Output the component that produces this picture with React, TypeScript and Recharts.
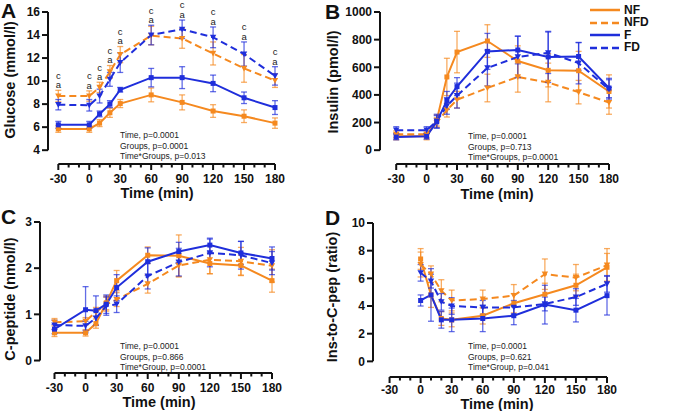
import React from "react";
import { LineChart, Line, XAxis, YAxis, ErrorBar, ReferenceLine } from "recharts";

const ORANGE = "#F5891F";
const BLUE = "#1F2EDB";
const INK = "#111111";
const FONT = "'Liberation Sans', Arial, sans-serif";

// sampling times (min)
const times = [-30, 0, 10, 20, 30, 60, 90, 120, 150, 180];
const timesRatio = [0, 10, 20, 30, 60, 90, 120, 150, 180];
const xTicks = [-30, -20, -10, 0, 10, 20, 30, 40, 50, 60, 70, 80, 90, 100, 110, 120, 130, 140, 150, 160, 170, 180];
const xLabelTicks = [-30, 0, 30, 60, 90, 120, 150, 180];

// A: glucose (mmol/l), mean and SEM
const gluNF = [5.85, 5.85, 6.35, 7.25, 8.05, 8.8, 8.15, 7.4, 6.95, 6.35];
const gluNFErr = [0.3, 0.3, 0.3, 0.4, 0.35, 0.6, 0.65, 0.55, 0.55, 0.45];
const gluNFD = [8.7, 8.7, 9.45, 10.8, 12.3, 13.95, 13.7, 12.4, 11.1, 10.05];
const gluNFDErr = [0.5, 0.45, 0.45, 0.55, 0.7, 0.8, 0.85, 1.0, 1.2, 0.6];
const gluF = [6.2, 6.2, 7.15, 8.0, 9.25, 10.3, 10.3, 9.8, 8.55, 7.7];
const gluFErr = [0.3, 0.3, 0.25, 0.3, 0.2, 0.8, 0.95, 0.72, 0.5, 0.6];
const gluFD = [7.95, 7.9, 8.7, 10.15, 11.6, 14.0, 14.5, 13.8, 12.35, 10.45];
const gluFDErr = [0.45, 0.5, 0.6, 0.6, 0.85, 0.85, 0.8, 0.9, 1.05, 0.8];

// B: insulin (pmol/l)
const insNF = [100, 100, 215, 530, 710, 790, 645, 578, 575, 425];
const insNFErr = [25, 25, 40, 135, 150, 118, 110, 120, 140, 120];
const insNFD = [115, 115, 200, 290, 365, 450, 530, 490, 420, 345];
const insNFDErr = [25, 25, 35, 50, 60, 100, 110, 140, 85, 85];
const insF = [95, 100, 205, 360, 460, 715, 725, 675, 678, 450];
const insFErr = [20, 20, 45, 65, 65, 130, 100, 185, 100, 70];
const insFD = [145, 145, 210, 320, 395, 595, 675, 705, 630, 440];
const insFDErr = [25, 25, 50, 60, 90, 130, 150, 150, 150, 70];

// C: C-peptide (nmol/l)
const cpNF = [0.6, 0.6, 0.8, 1.25, 1.73, 2.28, 2.27, 2.1, 2.06, 1.73];
const cpNFErr = [0.08, 0.07, 0.1, 0.15, 0.22, 0.18, 0.45, 0.22, 0.22, 0.25];
const cpNFD = [0.83, 0.85, 1.05, 1.22, 1.32, 1.66, 2.06, 2.18, 2.15, 2.05];
const cpNFDErr = [0.08, 0.08, 0.1, 0.15, 0.15, 0.2, 0.25, 0.3, 0.3, 0.35];
const cpF = [0.68, 1.1, 1.08, 1.22, 1.58, 2.14, 2.36, 2.5, 2.33, 2.21];
const cpFErr = [0.1, 0.5, 0.32, 0.2, 0.28, 0.3, 0.2, 0.15, 0.25, 0.25];
const cpFD = [0.77, 0.75, 0.92, 1.18, 1.22, 1.83, 2.13, 2.33, 2.28, 2.11];
const cpFDErr = [0.1, 0.1, 0.15, 0.2, 0.18, 0.28, 0.3, 0.3, 0.3, 0.25];

// D: insulin-to-C-peptide ratio
const ratNF = [7.4, 4.8, 3.1, 3.0, 3.3, 4.2, 4.85, 5.5, 6.8];
const ratNFErr = [0.75, 0.9, 0.5, 0.5, 0.6, 0.7, 0.8, 0.8, 1.0];
const ratNFD = [7.0, 6.3, 5.1, 4.4, 4.5, 4.75, 6.3, 6.05, 6.95];
const ratNFDErr = [0.9, 0.6, 0.8, 0.75, 0.65, 0.8, 1.1, 0.95, 1.2];
const ratF = [4.4, 4.8, 3.0, 3.0, 3.1, 3.3, 4.1, 3.7, 4.75];
const ratFErr = [0.4, 1.9, 0.6, 0.85, 0.95, 0.65, 1.4, 0.85, 1.4];
const ratFD = [6.4, 5.8, 4.3, 4.0, 3.9, 3.9, 4.15, 4.65, 5.6];
const ratFDErr = [0.6, 0.5, 0.6, 0.6, 0.5, 0.5, 0.5, 0.6, 0.6];

type Row = {
  t: number;
  nf: number; nfE: number;
  nfd: number; nfdE: number;
  f: number; fE: number;
  fd: number; fdE: number;
  top: number;
};

function buildRows(t: number[], s: number[][]): Row[] {
  return t.map((tt, i) => ({
    t: tt,
    nf: s[0][i], nfE: s[1][i],
    nfd: s[2][i], nfdE: s[3][i],
    f: s[4][i], fE: s[5][i],
    fd: s[6][i], fdE: s[7][i],
    // highest whisker of the diabetic groups, anchors the significance letters
    top: Math.max(s[2][i] + s[3][i], s[6][i] + s[7][i]),
  }));
}

const gluRows = buildRows(times, [gluNF, gluNFErr, gluNFD, gluNFDErr, gluF, gluFErr, gluFD, gluFDErr]);
const insRows = buildRows(times, [insNF, insNFErr, insNFD, insNFDErr, insF, insFErr, insFD, insFDErr]);
const cpRows = buildRows(times, [cpNF, cpNFErr, cpNFD, cpNFDErr, cpF, cpFErr, cpFD, cpFDErr]);
const ratRows = buildRows(timesRatio, [ratNF, ratNFErr, ratNFD, ratNFDErr, ratF, ratFErr, ratFD, ratFDErr]);

const SERIES = [
  { key: "nf", name: "NF", color: ORANGE, dash: undefined as string | undefined, marker: "square" },
  { key: "nfd", name: "NFD", color: ORANGE, dash: "7 4", marker: "tri" },
  { key: "f", name: "F", color: BLUE, dash: undefined as string | undefined, marker: "square" },
  { key: "fd", name: "FD", color: BLUE, dash: "7 4", marker: "tri" },
];

function marker(p: any, kind: string, color: string) {
  const { cx, cy, index } = p;
  if (cx == null || cy == null) return <g key={`m-${index}`} />;
  if (kind === "square") {
    return <rect key={`m-${index}`} x={cx - 2.5} y={cy - 2.5} width={5} height={5} fill={color} />;
  }
  return (
    <path
      key={`m-${index}`}
      d={`M${cx - 3.2},${cy - 2.6}L${cx + 3.2},${cy - 2.6}L${cx},${cy + 3}Z`}
      fill={color}
    />
  );
}

// x ticks every 10 min, labelled every 30 min
function TimeTick(props: any) {
  const { x, y, payload, labelGap = 14.5 } = props;
  const major = xLabelTicks.includes(payload.value);
  return (
    <g>
      <line x1={x} x2={x} y1={y} y2={y + (major ? 6 : 3.5)} stroke={INK} strokeWidth={2} />
      {major && (
        <text x={x} y={y + labelGap} dy="0.36em" textAnchor="middle" fill={INK}
          style={{ fontSize: 12, fontWeight: 700, fontFamily: FONT }}>
          {payload.value}
        </text>
      )}
    </g>
  );
}

function sigLetters(p: any) {
  const { cx, cy, index } = p;
  if (cx == null || cy == null) return <g key={`s-${index}`} />;
  const st = { fontSize: 9.5, fontFamily: FONT, fill: "#222" };
  return (
    <g key={`s-${index}`}>
      <text x={cx} y={cy - 5.5} dy="0.35em" textAnchor="middle" style={st}>a</text>
      <text x={cx} y={cy - 15} dy="0.35em" textAnchor="middle" style={st}>c</text>
    </g>
  );
}

type PanelProps = {
  rows: Row[];
  left: number;
  top: number;
  width: number;
  height: number;
  marginTop: number;
  marginRight: number;
  yAxisWidth: number;
  xAxisHeight: number;
  xMin: number;
  yDomain: [number, number];
  yTicks: number[];
  labelGap?: number;
  letters?: boolean;
};

function Panel(p: PanelProps) {
  const yLo = p.yTicks[0];
  const yHi = p.yTicks[p.yTicks.length - 1];
  return (
    <div style={{ position: "absolute", left: p.left, top: p.top }}>
      <LineChart
        width={p.width}
        height={p.height}
        data={p.rows}
        margin={{ top: p.marginTop, right: p.marginRight, bottom: 0, left: 0 }}
      >
        <XAxis
          dataKey="t"
          type="number"
          domain={[p.xMin, 180]}
          ticks={xTicks}
          interval={0}
          axisLine={false}
          tickLine={false}
          tickSize={0}
          tickMargin={0}
          height={p.xAxisHeight}
          tick={<TimeTick labelGap={p.labelGap} />}
        />
        <YAxis
          type="number"
          domain={p.yDomain}
          ticks={p.yTicks}
          interval={0}
          axisLine={false}
          width={p.yAxisWidth}
          tickSize={6}
          tickMargin={2}
          tickLine={{ stroke: INK, strokeWidth: 2 }}
          tick={{ fill: INK, fontSize: 12, fontWeight: 700, fontFamily: FONT }}
        />
        <ReferenceLine
          segment={[{ x: p.xMin, y: yLo }, { x: p.xMin, y: yHi }]}
          stroke={INK}
          strokeWidth={2}
          ifOverflow="visible"
        />
        <ReferenceLine
          segment={[{ x: -30, y: p.yDomain[0] }, { x: 180, y: p.yDomain[0] }]}
          stroke={INK}
          strokeWidth={2}
          ifOverflow="visible"
        />
        {SERIES.map((s) => (
          <Line
            key={s.key}
            dataKey={s.key}
            stroke={s.color}
            strokeWidth={2}
            strokeDasharray={s.dash}
            dot={(d: any) => marker(d, s.marker, s.color)}
            activeDot={false}
            isAnimationActive={false}
          >
            <ErrorBar
              dataKey={`${s.key}E`}
              direction="y"
              width={3}
              stroke={s.color}
              strokeWidth={1.3}
              strokeOpacity={0.7}
              isAnimationActive={false}
            />
          </Line>
        ))}
        {p.letters && (
          <Line
            dataKey="top"
            stroke="none"
            dot={sigLetters}
            activeDot={false}
            isAnimationActive={false}
          />
        )}
      </LineChart>
    </div>
  );
}

const boldText: React.CSSProperties = {
  position: "absolute",
  fontFamily: FONT,
  fontWeight: 700,
  color: INK,
  whiteSpace: "nowrap",
};

function XTitle({ cx, cy }: { cx: number; cy: number }) {
  return (
    <div style={{ ...boldText, fontSize: 14.5, lineHeight: "14px", left: cx, top: cy, transform: "translate(-50%, -50%)" }}>
      Time (min)
    </div>
  );
}

function YTitle({ cx, cy, text }: { cx: number; cy: number; text: string }) {
  return (
    <div
      style={{
        ...boldText,
        fontSize: 14.5,
        lineHeight: "16px",
        left: cx,
        top: cy,
        transform: "translate(-50%, -50%) rotate(-90deg)",
      }}
    >
      {text}
    </div>
  );
}

function Stats({ x, y, lines }: { x: number; y: number; lines: string[] }) {
  return (
    <div
      style={{
        position: "absolute",
        left: x,
        top: y,
        fontFamily: FONT,
        fontSize: 8.5,
        lineHeight: "10.5px",
        color: "#222",
        whiteSpace: "nowrap",
      }}
    >
      {lines.map((l) => (
        <div key={l}>{l}</div>
      ))}
    </div>
  );
}

function Legend() {
  return (
    <div style={{ position: "absolute", left: 590, top: 4 }}>
      {SERIES.map((s) => (
        <div key={s.key} style={{ display: "flex", alignItems: "center", height: 12.5 }}>
          <svg width={30} height={6}>
            <line x1={0} x2={30} y1={3} y2={3} stroke={s.color} strokeWidth={2.5} strokeDasharray={s.dash ? "7 4" : undefined} />
          </svg>
          <span style={{ fontFamily: FONT, fontWeight: 700, fontSize: 12, color: INK, marginLeft: 4, lineHeight: "11px" }}>
            {s.name}
          </span>
        </div>
      ))}
    </div>
  );
}

const letter: React.CSSProperties = { ...boldText, fontSize: 21, lineHeight: "21px" };

export default function App() {
  return (
    <div style={{ position: "absolute", left: 0, top: 0, width: 677, height: 411, background: "#fff", overflow: "hidden" }}>
      <Panel rows={gluRows} left={0} top={0} width={338} height={205} marginTop={12} marginRight={63}
        yAxisWidth={48} xAxisHeight={41} xMin={-40} yDomain={[2.8, 16]} yTicks={[4, 6, 8, 10, 12, 14, 16]} letters />
      <Panel rows={insRows} left={338} top={0} width={339} height={205} marginTop={12} marginRight={68}
        yAxisWidth={42} xAxisHeight={41} xMin={-46} yDomain={[-100, 1000]} yTicks={[0, 200, 400, 600, 800, 1000]} />
      <Panel rows={cpRows} left={0} top={205} width={338} height={206} marginTop={17} marginRight={66}
        yAxisWidth={40} xAxisHeight={38} xMin={-44} yDomain={[-0.27, 3]} yTicks={[0, 1, 2, 3]} />
      <Panel rows={ratRows} left={338} top={205} width={339} height={206} marginTop={18} marginRight={70}
        yAxisWidth={35} xAxisHeight={34} xMin={-46} yDomain={[-1.13, 10]} yTicks={[0, 2, 4, 6, 8, 10]} labelGap={12.5} />

      <XTitle cx={157} cy={193} />
      <XTitle cx={497} cy={194} />
      <XTitle cx={159} cy={402} />
      <XTitle cx={497} cy={404} />

      <YTitle cx={10} cy={80} text="Glucose (mmol/l)" />
      <YTitle cx={333} cy={82} text="Insulin (pmol/l)" />
      <YTitle cx={10} cy={299} text="C-peptide (nmol/l)" />
      <YTitle cx={332} cy={297} text="Ins-to-C-pep (ratio)" />

      <div style={{ ...letter, left: 1, top: 0 }}>A</div>
      <div style={{ ...letter, left: 325, top: 1 }}>B</div>
      <div style={{ ...letter, left: 1, top: 206 }}>C</div>
      <div style={{ ...letter, left: 325, top: 207 }}>D</div>

      <Stats x={120} y={130} lines={["Time, p=0.0001", "Groups, p=0.0001", "Time*Groups, p=0.013"]} />
      <Stats x={468} y={131} lines={["Time, p=0.0001", "Groups, p=0.713", "Time*Groups, p=0.0001"]} />
      <Stats x={120} y={341} lines={["Time, p=0.0001", "Groups, p=0.866", "Time*Group, p=0.0001"]} />
      <Stats x={468} y={341} lines={["Time, p=0.0001", "Groups, p=0.621", "Time*Group, p=0.041"]} />

      <Legend />
    </div>
  );
}
